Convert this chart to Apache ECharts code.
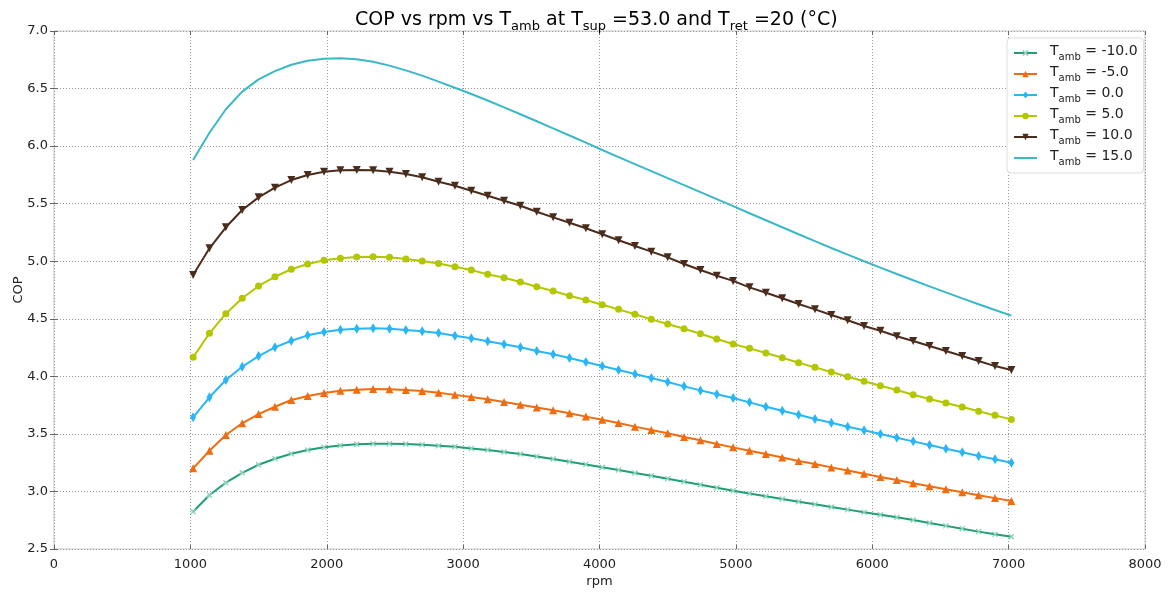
<!DOCTYPE html>
<html>
<head>
<meta charset="utf-8">
<script src="https://cdn.jsdelivr.net/npm/echarts@6/dist/echarts.min.js"></script>
<style>
html,body{margin:0;padding:0;background:#fff;}
#main{width:1170px;height:593px;}
</style>
</head>
<body>
<div id="main"></div>
<script>
// rpm sample points (x)
var rpm = [1020,1140,1260,1380,1500,1620,1740,1860,1980,2100,2220,2340,2460,2580,2700,2820,2940,3060,3180,3300,
  3420,3540,3660,3780,3900,4020,4140,4260,4380,4500,4620,4740,4860,4980,5100,5220,5340,5460,5580,5700,
  5820,5940,6060,6180,6300,6420,6540,6660,6780,6900,7020];

// COP for each T_amb
var copM10 = [2.824,2.969,3.076,3.162,3.232,3.284,3.328,3.360,3.383,3.400,3.409,3.414,3.415,3.412,3.406,3.397,3.388,3.374,3.360,3.343,
  3.325,3.303,3.281,3.258,3.235,3.210,3.186,3.160,3.136,3.110,3.084,3.058,3.032,3.006,2.982,2.958,2.934,2.911,2.888,2.865,
  2.842,2.819,2.797,2.775,2.752,2.726,2.701,2.676,2.651,2.628,2.606];
var copM5 = [3.201,3.354,3.490,3.592,3.672,3.736,3.794,3.829,3.855,3.875,3.884,3.890,3.888,3.881,3.872,3.858,3.839,3.820,3.800,3.777,
  3.753,3.730,3.705,3.679,3.650,3.623,3.594,3.563,3.534,3.505,3.473,3.444,3.413,3.383,3.354,3.325,3.294,3.265,3.238,3.209,
  3.182,3.154,3.126,3.100,3.072,3.046,3.019,2.993,2.967,2.942,2.917];
var cop0 = [3.644,3.818,3.968,4.083,4.176,4.252,4.309,4.356,4.385,4.405,4.414,4.417,4.414,4.402,4.391,4.377,4.353,4.330,4.304,4.278,
  4.252,4.220,4.191,4.159,4.124,4.089,4.055,4.020,3.985,3.950,3.913,3.878,3.844,3.811,3.774,3.736,3.701,3.666,3.629,3.597,
  3.562,3.531,3.499,3.467,3.435,3.403,3.371,3.340,3.308,3.279,3.249];
var cop5 = [4.165,4.374,4.544,4.678,4.785,4.865,4.930,4.976,5.008,5.025,5.037,5.038,5.034,5.019,5.002,4.980,4.952,4.924,4.886,4.857,
  4.819,4.778,4.741,4.700,4.663,4.622,4.582,4.539,4.495,4.454,4.414,4.370,4.324,4.281,4.243,4.202,4.162,4.118,4.078,4.037,
  3.997,3.957,3.918,3.881,3.840,3.803,3.768,3.733,3.696,3.661,3.626];
var cop10 = [4.880,5.112,5.295,5.445,5.555,5.639,5.705,5.749,5.778,5.790,5.792,5.790,5.778,5.758,5.729,5.691,5.656,5.612,5.569,5.526,
  5.482,5.430,5.381,5.334,5.286,5.234,5.182,5.132,5.083,5.034,4.976,4.924,4.874,4.829,4.773,4.726,4.678,4.628,4.582,4.533,
  4.487,4.437,4.396,4.348,4.307,4.263,4.220,4.176,4.133,4.089,4.055];
var cop15 = [5.879,6.116,6.320,6.473,6.580,6.652,6.707,6.742,6.759,6.763,6.754,6.733,6.699,6.658,6.612,6.560,6.507,6.453,6.396,6.337,
  6.277,6.216,6.154,6.092,6.030,5.966,5.905,5.844,5.783,5.722,5.661,5.600,5.539,5.478,5.417,5.356,5.295,5.234,5.174,5.115,
  5.057,5.000,4.944,4.889,4.835,4.782,4.729,4.677,4.626,4.576,4.527];

var ambLabels = ['-10.0', '-5.0', '0.0', '5.0', '10.0', '15.0'];

var font = 'DejaVu Sans';
var xMark = 'path://M0,1.6L1.6,0L5,3.4L8.4,0L10,1.6L6.6,5L10,8.4L8.4,10L5,6.6L1.6,10L0,8.4L3.4,5Z';

function pts(ys) {
  return rpm.map(function (r, i) { return [r, ys[i]]; });
}

function line(i, ys, color, symbol, size, extra) {
  var s = {
    name: ambLabels[i],
    type: 'line',
    data: pts(ys),
    symbol: symbol,
    symbolSize: size,
    showSymbol: symbol !== 'none',
    showAllSymbol: true,
    lineStyle: { color: color, width: 2 },
    itemStyle: { color: color, borderWidth: 0 },
    emphasis: { disabled: true },
    animation: false
  };
  for (var k in extra) s[k] = extra[k];
  return s;
}

var series = [
  line(0, copM10, '#1f9e78', xMark, 6, { itemStyle: { color: '#8fd2bd', borderWidth: 0 } }),
  line(1, copM5, '#ef6d10', 'triangle', 8),
  line(2, cop0, '#29b6f6', 'diamond', [6, 10]),
  line(3, cop5, '#b3c600', 'circle', 7),
  line(4, cop10, '#4a2c1c', 'triangle', 8, { symbolRotate: 180 }),
  line(5, cop15, '#3ab8c8', 'none', 0)
];

var tickStyle = { show: true, inside: true, length: 4, lineStyle: { color: '#666' } };
var gridLine = { show: true, lineStyle: { color: '#999', type: [1, 2], width: 1 } };

var legendData = ambLabels.map(function (n, i) {
  return i === 5 ? { name: n, itemStyle: { opacity: 0 } } : { name: n };
});

var option = {
  backgroundColor: '#fff',
  animation: false,
  title: {
    text: '{a|COP vs rpm vs T}{s|amb}{a| at T}{s|sup}{a| =53.0 and T}{s|ret}{a| =20 (°C)}',
    left: 355,
    top: 6,
    padding: [5, 0, 5, 0],
    textStyle: {
      fontWeight: 'normal',
      rich: {
        a: { fontFamily: font, fontSize: 19, fontWeight: 'normal', color: '#000', lineHeight: 22, verticalAlign: 'top' },
        s: { fontFamily: font, fontSize: 13, fontWeight: 'normal', color: '#000', lineHeight: 12, verticalAlign: 'bottom' }
      }
    }
  },
  legend: {
    orient: 'vertical',
    left: 1007,
    top: 38,
    padding: [6, 6, 6, 6],
    itemWidth: 23,
    itemHeight: 8,
    itemGap: 3,
    backgroundColor: '#fff',
    borderColor: '#ddd',
    borderWidth: 1,
    borderRadius: 4,
    data: legendData,
    formatter: function (n) { return '{t|T}{s|amb}{t| = ' + n + '}'; },
    textStyle: {
      padding: [0, 0, 0, 8],
      rich: {
        t: { fontFamily: font, fontSize: 14, color: '#222', lineHeight: 18, verticalAlign: 'top' },
        s: { fontFamily: font, fontSize: 10, color: '#222', lineHeight: 10, verticalAlign: 'bottom' }
      }
    }
  },
  grid: { left: 54, right: 25, top: 31, bottom: 44, outerBoundsMode: 'none',
    show: true, borderColor: '#c8c8c8', borderWidth: 1 },
  xAxis: [{
    type: 'value', min: 0, max: 8000, interval: 1000,
    name: 'rpm', nameLocation: 'middle', nameGap: 26, nameMoveOverlap: false,
    nameTextStyle: { fontFamily: font, fontSize: 13, color: '#222' },
    axisLine: { show: false },
    axisTick: tickStyle,
    axisLabel: { fontFamily: font, fontSize: 13, color: '#222', margin: 9,
      formatter: function (v) { return String(v); } },
    splitLine: gridLine
  }, {
    type: 'value', min: 0, max: 8000, interval: 1000, position: 'top',
    axisLine: { show: false }, axisTick: tickStyle, axisLabel: { show: false }, splitLine: { show: false }
  }],
  yAxis: [{
    type: 'value', min: 2.5, max: 7.0, interval: 0.5,
    name: 'COP', nameLocation: 'middle', nameGap: 29, nameMoveOverlap: false,
    nameTextStyle: { fontFamily: font, fontSize: 13, color: '#222' },
    axisLine: { show: false },
    axisTick: tickStyle,
    axisLabel: { fontFamily: font, fontSize: 13, color: '#222', margin: 6,
      formatter: function (v) { return v.toFixed(1); } },
    splitLine: gridLine
  }, {
    type: 'value', min: 2.5, max: 7.0, interval: 0.5, position: 'right',
    axisLine: { show: false }, axisTick: tickStyle, axisLabel: { show: false }, splitLine: { show: false }
  }],
  series: series
};

echarts.init(document.getElementById('main'), null, { renderer: 'canvas' }).setOption(option);
</script>
</body>
</html>
